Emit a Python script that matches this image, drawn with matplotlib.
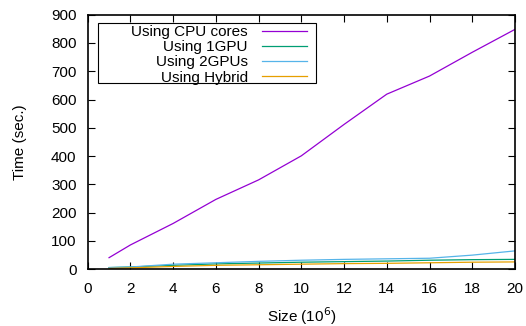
import numpy as np
import matplotlib.pyplot as plt
from matplotlib.patches import Rectangle

# Run times for the different back-ends
sizes = [1, 2, 4, 6, 8, 10, 12, 14, 16, 18, 20]
cpu_cores = [41, 86, 162, 247, 316, 401, 512, 619, 683, 767, 848]
one_gpu = [6, 8, 14, 19, 22, 25, 27, 29, 32, 34, 35]
two_gpus = [6, 8, 18, 23, 28, 32, 35, 37, 39, 50, 65]
hybrid = [3, 5, 10, 14, 16, 18, 20, 21, 23, 25, 26]

plt.rcParams['font.family'] = ['Liberation Sans', 'DejaVu Sans']
plt.rcParams['font.size'] = 11

fig = plt.figure(figsize=(5.26, 3.26), dpi=100)
ax = fig.add_axes([0.1667, 0.174, 0.8123, 0.781])

ax.plot(sizes, cpu_cores, color='#9400d3', lw=0.9, label='Using CPU cores')
ax.plot(sizes, one_gpu, color='#009e73', lw=0.9, label='Using 1GPU')
ax.plot(sizes, two_gpus, color='#56b4e9', lw=0.9, label='Using 2GPUs')
ax.plot(sizes, hybrid, color='#e69f00', lw=0.9, label='Using Hybrid')

ax.set_xlim(0, 20)
ax.set_ylim(0, 900)
ax.set_xticks(range(0, 21, 2))
ax.set_yticks(range(0, 901, 100))
ax.tick_params(direction='in', top=True, right=True, length=5, width=0.8)
ax.tick_params(axis='x', pad=9)
ax.tick_params(axis='y', pad=8)
for s in ax.spines.values():
    s.set_linewidth(1.2)

ax.set_xlabel('Size (10$^{6}$)', labelpad=7)
ax.set_ylabel('Time (sec.)', labelpad=17)

# key box drawn separately so it can be wider than the entries
ax.add_patch(Rectangle((0.0248, 0.7326), 0.5088, 0.2354, transform=ax.transAxes,
                       fill=True, facecolor='white', edgecolor='black', lw=0.8, zorder=4))
leg = ax.legend(loc='upper right', bbox_to_anchor=(0.513, 0.96), markerfirst=False,
                frameon=False, borderaxespad=0, handlelength=2.95,
                labelspacing=0.08, borderpad=0, handletextpad=0.92)
leg.set_zorder(5)
# right-align key text
leg._legend_box.align = 'right'
for t in leg.get_texts():
    t.set_ha('right')

fig.savefig('out.png', dpi=100)
